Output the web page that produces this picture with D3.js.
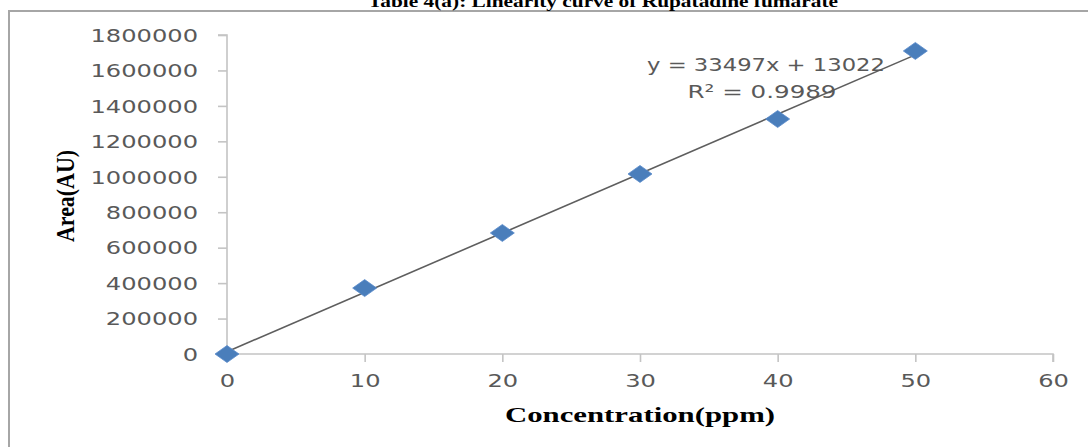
<!DOCTYPE html>
<html>
<head>
<meta charset="utf-8">
<script src="https://cdn.jsdelivr.net/npm/d3@7/dist/d3.min.js"></script>
<style>
  html, body { margin: 0; padding: 0; background: #fff; }
  svg { display: block; }
</style>
</head>
<body>
<svg id="chart" width="1088" height="447"></svg>
<script>
// ---- data ----
const concentration = [0, 10, 20, 30, 40, 50];
const area = [0, 372000, 683000, 1016000, 1326000, 1710000];
const xTicks = [0, 10, 20, 30, 40, 50, 60];
const yTicks = [0, 200000, 400000, 600000, 800000, 1000000, 1200000, 1400000, 1600000, 1800000];
const slope = 33497;
const intercept = 13022;
const equationText = "y = 33497x + 13022";
const r2Text = "R\u00B2 = 0.9989";
const titleText = "Table 4(a): Linearity curve of Rupatadine fumarate";
const xLabel = "Concentration(ppm)";
const yLabel = "Area(AU)";

// ---- layout ----
const svg = d3.select("#chart");
const plot = { left: 227, right: 1053, top: 35, bottom: 354 };
const sx = 1.38;            // horizontal stretch of the source picture
const tickFont = 17.5;
const textGray = "#595959";
const axisGray = "#c4c4c4";

const x = d3.scaleLinear().domain([0, 60]).range([plot.left, plot.right]);
const y = d3.scaleLinear().domain([0, 1800000]).range([plot.bottom, plot.top]);

// outer frame
svg.append("rect")
  .attr("x", 9).attr("y", 11)
  .attr("width", 1200).attr("height", 600)
  .attr("fill", "none").attr("stroke", "#a6a6a6").attr("stroke-width", 2);

// title (cut off at top, as in the source)
svg.append("text")
  .attr("x", 603).attr("y", 7)
  .attr("text-anchor", "middle")
  .attr("font-family", "Liberation Serif, Times New Roman, serif")
  .attr("font-weight", "bold")
  .attr("font-size", 17)
  .attr("textLength", 470).attr("lengthAdjust", "spacingAndGlyphs")
  .attr("fill", "#000")
  .text(titleText);

// y axis
const gy = svg.append("g")
  .attr("transform", `translate(${plot.left},0)`)
  .call(d3.axisLeft(y).tickValues(yTicks).tickSize(9).tickPadding(0).tickFormat(d3.format("d")));
gy.select(".domain").attr("stroke", axisGray).attr("stroke-width", 1.6).attr("d", `M-9,${plot.top}H0V${plot.bottom}`);
gy.selectAll(".tick line").attr("stroke", axisGray).attr("stroke-width", 1.6);
gy.selectAll(".tick text")
  .attr("x", -29 / sx)
  .attr("dy", "0.36em")
  .attr("transform", `scale(${sx},1)`)
  .attr("font-family", "DejaVu Sans, Verdana, sans-serif")
  .attr("font-size", tickFont)
  .attr("fill", textGray);

// x axis
const gx = svg.append("g")
  .attr("transform", `translate(0,${plot.bottom})`)
  .call(d3.axisBottom(x).tickValues(xTicks).tickSize(8).tickPadding(0));
gx.select(".domain").attr("stroke", axisGray).attr("stroke-width", 1.6).attr("d", `M${plot.left},0H${plot.right}V8`);
gx.selectAll(".tick line").attr("stroke", axisGray).attr("stroke-width", 1.6);
gx.selectAll(".tick text")
  .attr("y", 21)
  .attr("dy", "0.71em")
  .attr("x", 0)
  .attr("transform", `scale(${sx},1)`)
  .attr("font-family", "DejaVu Sans, Verdana, sans-serif")
  .attr("font-size", tickFont)
  .attr("fill", textGray);
svg.selectAll(".domain").attr("fill", "none");

// trendline
const trendX = [0, 50];
svg.append("line")
  .attr("x1", x(trendX[0])).attr("y1", y(slope * trendX[0] + intercept))
  .attr("x2", x(trendX[1])).attr("y2", y(slope * trendX[1] + intercept))
  .attr("stroke", "#5e5e5e").attr("stroke-width", 1.6);

// diamonds
const dw = 24, dh = 17;
svg.append("g").selectAll("path")
  .data(concentration.map((c, i) => ({ c, a: area[i] })))
  .join("path")
  .attr("d", d => {
    const cx = x(d.c), cy = y(d.a);
    return `M${cx - dw / 2},${cy}L${cx},${cy - dh / 2}L${cx + dw / 2},${cy}L${cx},${cy + dh / 2}Z`;
  })
  .attr("fill", "#4a7ebb")
  .attr("stroke", "#5b8ccc").attr("stroke-width", 0.8);

// equation labels
svg.append("text")
  .attr("x", 766).attr("y", 70.5)
  .attr("text-anchor", "middle")
  .attr("font-family", "DejaVu Sans, Verdana, sans-serif")
  .attr("font-size", 18)
  .attr("textLength", 238).attr("lengthAdjust", "spacingAndGlyphs")
  .attr("fill", textGray)
  .text(equationText);
svg.append("text")
  .attr("x", 762).attr("y", 98)
  .attr("text-anchor", "middle")
  .attr("font-family", "DejaVu Sans, Verdana, sans-serif")
  .attr("font-size", 18)
  .attr("textLength", 149).attr("lengthAdjust", "spacingAndGlyphs")
  .attr("fill", textGray)
  .text(r2Text);

// axis titles
svg.append("text")
  .attr("x", 640).attr("y", 422)
  .attr("text-anchor", "middle")
  .attr("font-family", "Liberation Serif, Times New Roman, serif")
  .attr("font-weight", "bold")
  .attr("font-size", 21)
  .attr("textLength", 270).attr("lengthAdjust", "spacingAndGlyphs")
  .attr("fill", "#000")
  .text(xLabel);
svg.append("text")
  .attr("transform", "translate(66,196) rotate(-90) scale(1,1.3)")
  .attr("text-anchor", "middle")
  .attr("dy", "0.33em")
  .attr("font-family", "Liberation Serif, Times New Roman, serif")
  .attr("font-weight", "bold")
  .attr("font-size", 19)
  .attr("textLength", 92).attr("lengthAdjust", "spacingAndGlyphs")
  .attr("fill", "#000")
  .text(yLabel);
</script>
</body>
</html>
